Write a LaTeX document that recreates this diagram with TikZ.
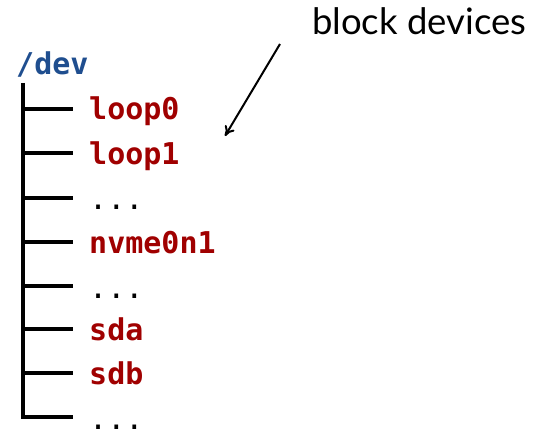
\documentclass[tikz,border=0pt]{standalone}
\usepackage{fontspec}
\setmainfont{Lato}
\setmonofont{DejaVu Sans Mono}
\usetikzlibrary{arrows.meta}
\definecolor{dirblue}{HTML}{1F4E8F}
\definecolor{devred}{HTML}{A00000}
\tikzset{
  entry/.style={anchor=base west, inner sep=0pt, font=\fontsize{30}{36}\selectfont\ttfamily\bfseries},
  dir/.style={entry, text=dirblue},
  dev/.style={entry, text=devred},
  gap/.style={entry, text=black, font=\fontsize{30}{36}\selectfont\ttfamily},
  branch/.style={line width=3.2pt, line cap=butt},
  note/.style={anchor=base west, inner sep=0pt, font=\fontsize{36.5}{40}\selectfont},
  pointer/.style={line width=2pt, -{To[length=10pt,width=11pt]}}
}
\begin{document}
\begin{tikzpicture}[x=1pt, y=-1pt]
  \useasboundingbox (0,0) rectangle (543,433);

  % root directory
  \node[dir] (root) at (16,75) {/dev};

  % branch points of the tree
  \coordinate (top) at (23,83);
  \foreach \name/\y in {b1/109, b2/153, b3/198, b4/242, b5/286, b6/329, b7/373, b8/417}
    \coordinate (\name) at (23,\y);

  % entries
  \node[dev] (loop0) at (89,120) {loop0};
  \node[dev] (loop1) at (89,164) {loop1};
  \node[gap] (g1)    at (89,209) {...};
  \node[dev] (nvme)  at (89,253) {nvme0n1};
  \node[gap] (g2)    at (89,298) {...};
  \node[dev] (sda)   at (89,340) {sda};
  \node[dev] (sdb)   at (89,384) {sdb};
  \node[gap] (g3)    at (89,429) {...};

  % tree lines
  \draw[branch] (top) -- ([yshift=1.6pt]b8);
  \foreach \name in {b1,b2,b3,b4,b5,b6,b7,b8}
    \draw[branch] ([xshift=-1.6pt]\name) -- ++(51.6,0);

  % annotation
  \node[note] (label) at (312,35) {block devices};
  \coordinate (tip) at (225,136);
  \draw[pointer] (280,44) -- (tip);
\end{tikzpicture}
\end{document}
